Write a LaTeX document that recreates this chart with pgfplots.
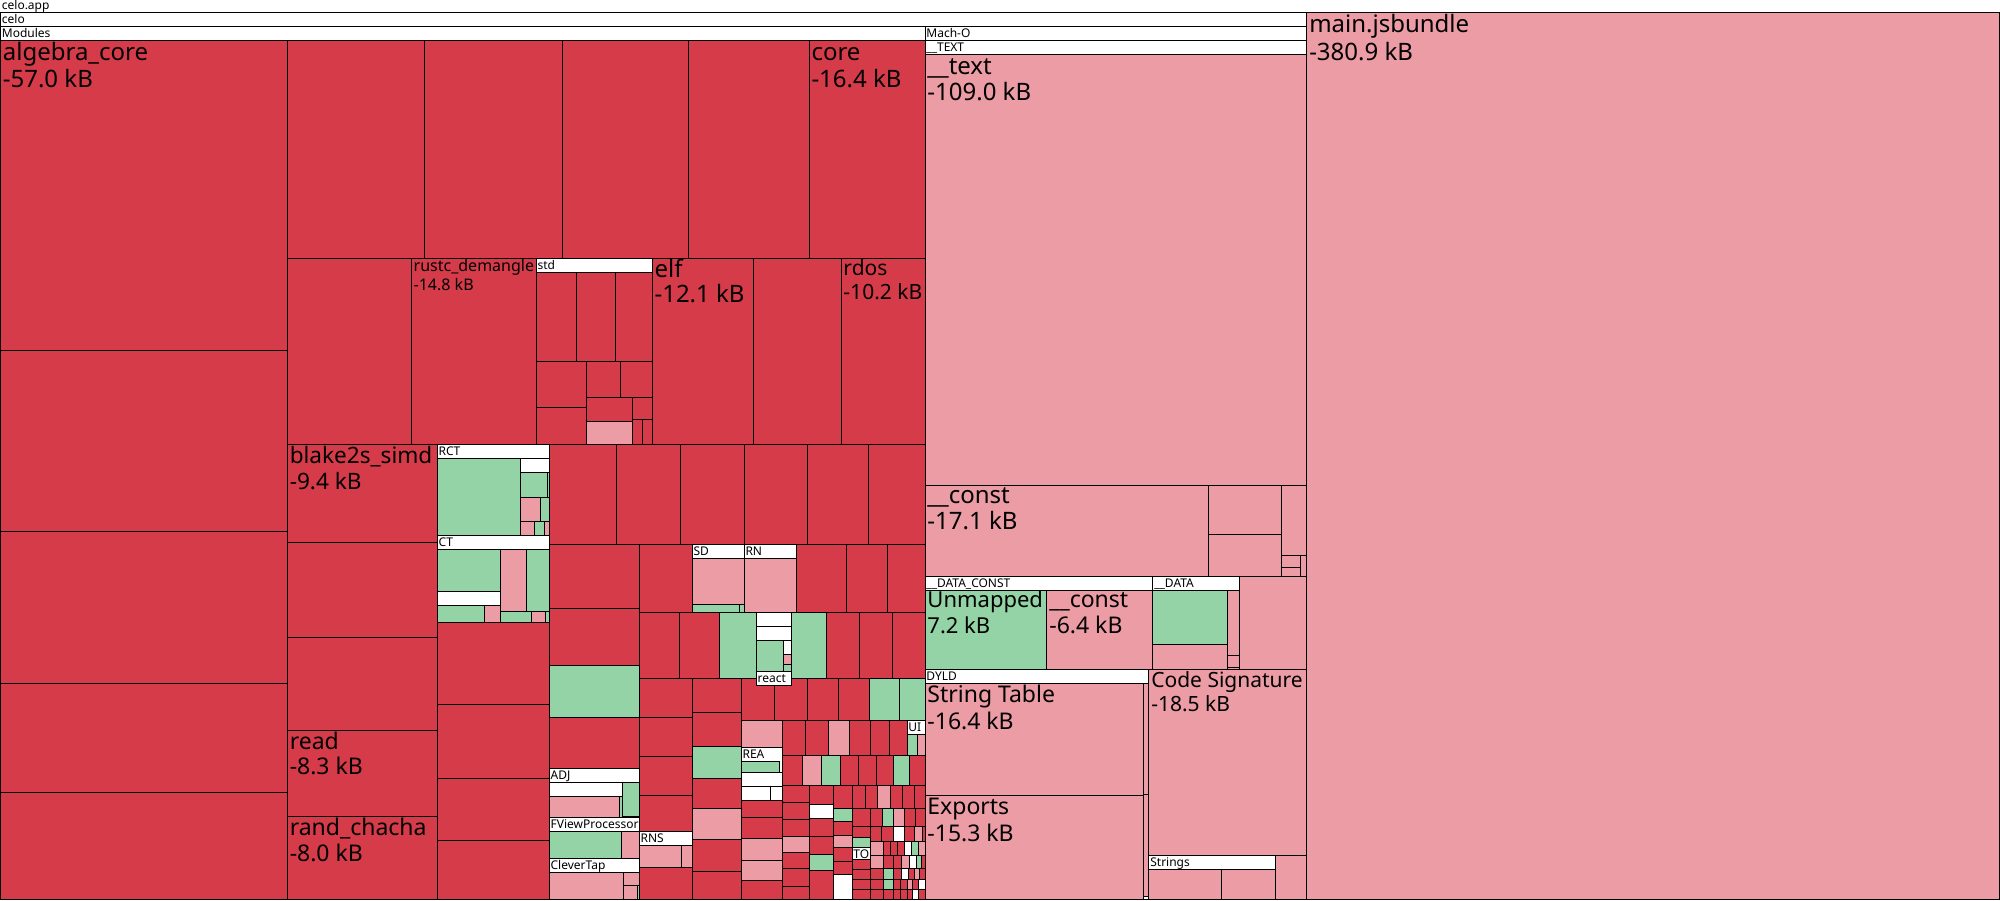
\documentclass[border=0pt]{standalone}
\usepackage{pgfplots}
\pgfplotsset{compat=1.18}
\usepackage{fontspec}
\setmainfont{Noto Sans}
\definecolor{tr}{RGB}{214,59,74}
\definecolor{tp}{RGB}{235,156,165}
\definecolor{tg}{RGB}{148,211,165}
\tikzset{tm/.style={draw=black,line width=0.5pt,mark=none},
  lab/.style={anchor=base west,inner sep=0pt,text=black}}
\newcommand{\Rc}[5]{\addplot[tm,fill=#5] coordinates {(#1,#2) (#3,#2) (#3,#4) (#1,#4)} --cycle;}
\newcommand{\Lb}[6]{\node[lab,font=\fontsize{#4}{#4}\selectfont] at (axis cs:#1,#2) {#5};
  \node[lab,font=\fontsize{#4}{#4}\selectfont] at (axis cs:#1,#3) {#6};}
\newcommand{\Hd}[3]{\node[lab,font=\fontsize{6}{7}\selectfont] at (axis cs:#1,#2) {#3};}
\begin{document}
\begin{tikzpicture}
\begin{axis}[width=1000pt,height=450pt,scale only axis,xmin=0,xmax=2000,ymin=0,ymax=900,
  y dir=reverse,hide axis,clip=false]
\addplot[fill=white,draw=none] coordinates {(0,0) (2000,0) (2000,900) (0,900)} --cycle;
% top level
\Rc{0}{13}{1307}{900}{white}
\Rc{1307}{13}{2000}{900}{tp}
\Rc{0}{27}{925}{900}{white}
\Rc{925}{27}{1307}{900}{white}
% Mach-O
\Rc{925}{41}{1307}{577}{white}
\Rc{925}{55}{1307}{486}{tp}
\Rc{925}{486}{1209}{577}{tp}
\Rc{1209}{486}{1282}{535}{tp}
\Rc{1209}{535}{1282}{577}{tp}
\Rc{1282}{486}{1307}{556}{tp}
\Rc{1282}{556}{1301}{568}{tp}
\Rc{1282}{568}{1301}{577}{tp}
\Rc{1301}{556}{1307}{577}{tp}
\Rc{925}{577}{1153}{670}{white}
\Rc{925}{591}{1047}{670}{tg}
\Rc{1047}{591}{1153}{670}{tp}
\Rc{1153}{577}{1240}{670}{white}
\Rc{1153}{591}{1228}{645}{tg}
\Rc{1153}{645}{1228}{670}{tp}
\Rc{1228}{591}{1240}{656}{tp}
\Rc{1228}{656}{1240}{668}{tp}
\Rc{1228}{668}{1240}{670}{tp}
\Rc{1240}{577}{1307}{670}{tp}
\Rc{925}{670}{1149}{900}{white}
\Rc{925}{684}{1144}{796}{tp}
\Rc{925}{796}{1144}{900}{tp}
\Rc{1144}{684}{1149}{795}{tp}
\Rc{1144}{795}{1149}{897}{tp}
\Rc{1149}{670}{1307}{856}{tp}
\Rc{1149}{856}{1276}{900}{white}
\Rc{1149}{870}{1222}{900}{tp}
\Rc{1222}{870}{1276}{900}{tp}
\Rc{1276}{856}{1307}{900}{tp}
% Modules: left column
\Rc{0}{41}{287}{351}{tr}
\Rc{0}{351}{287}{532}{tr}
\Rc{0}{532}{287}{684}{tr}
\Rc{0}{684}{287}{793}{tr}
\Rc{0}{793}{287}{900}{tr}
% top row
\Rc{287}{41}{424}{259}{tr}
\Rc{424}{41}{562}{259}{tr}
\Rc{562}{41}{688}{259}{tr}
\Rc{688}{41}{809}{259}{tr}
\Rc{809}{41}{925}{259}{tr}
% second row
\Rc{287}{259}{411}{445}{tr}
\Rc{411}{259}{536}{445}{tr}
\Rc{536}{259}{652}{445}{white}
\Rc{536}{273}{576}{362}{tr}
\Rc{576}{273}{615}{362}{tr}
\Rc{615}{273}{652}{362}{tr}
\Rc{536}{362}{586}{408}{tr}
\Rc{536}{408}{586}{445}{tr}
\Rc{586}{362}{620}{398}{tr}
\Rc{620}{362}{652}{398}{tr}
\Rc{586}{398}{632}{422}{tr}
\Rc{586}{422}{632}{445}{tp}
\Rc{632}{398}{652}{420}{tr}
\Rc{632}{420}{642}{445}{tr}
\Rc{642}{420}{652}{445}{tr}
\Rc{652}{259}{753}{445}{tr}
\Rc{753}{259}{841}{445}{tr}
\Rc{841}{259}{925}{445}{tr}
% third block
\Rc{287}{445}{437}{543}{tr}
\Rc{287}{543}{437}{638}{tr}
\Rc{287}{638}{437}{731}{tr}
\Rc{287}{731}{437}{817}{tr}
\Rc{287}{817}{437}{900}{tr}
% RCT
\Rc{437}{445}{549}{536}{white}
\Rc{437}{459}{520}{536}{tg}
\Rc{520}{459}{549}{473}{white}
\Rc{520}{473}{547}{498}{tg}
\Rc{547}{473}{549}{498}{tg}
\Rc{520}{498}{540}{522}{tp}
\Rc{540}{498}{549}{522}{tg}
\Rc{520}{522}{534}{536}{tp}
\Rc{534}{522}{544}{536}{tg}
\Rc{544}{522}{549}{536}{tp}
% CT
\Rc{437}{536}{549}{623}{white}
\Rc{437}{550}{500}{592}{tg}
\Rc{437}{592}{500}{606}{white}
\Rc{437}{606}{484}{623}{tg}
\Rc{484}{606}{500}{623}{tp}
\Rc{500}{550}{526}{612}{tp}
\Rc{526}{550}{549}{612}{tg}
\Rc{500}{612}{531}{623}{tg}
\Rc{531}{612}{545}{623}{tp}
\Rc{545}{612}{549}{623}{tg}
\Rc{437}{623}{549}{705}{tr}
\Rc{437}{705}{549}{779}{tr}
\Rc{437}{779}{549}{841}{tr}
\Rc{437}{841}{549}{900}{tr}
% row 445-545
\Rc{549}{445}{616}{545}{tr}
\Rc{616}{445}{680}{545}{tr}
\Rc{680}{445}{744}{545}{tr}
\Rc{744}{445}{807}{545}{tr}
\Rc{807}{445}{868}{545}{tr}
\Rc{868}{445}{925}{545}{tr}
% column 549-639
\Rc{549}{545}{639}{609}{tr}
\Rc{549}{609}{639}{666}{tr}
\Rc{549}{666}{639}{718}{tg}
\Rc{549}{718}{639}{769}{tr}
\Rc{549}{769}{639}{818}{white}
\Rc{549}{783}{622}{797}{white}
\Rc{622}{783}{639}{817}{tg}
\Rc{549}{797}{619}{818}{tp}
\Rc{619}{797}{622}{818}{tg}
\Rc{549}{818}{639}{859}{white}
\Rc{549}{832}{621}{859}{tg}
\Rc{621}{832}{639}{859}{tp}
\Rc{549}{859}{639}{900}{white}
\Rc{549}{873}{623}{900}{tp}
\Rc{623}{873}{639}{886}{tp}
\Rc{623}{886}{637}{900}{tp}
\Rc{637}{886}{639}{900}{tg}
% row 545-613
\Rc{639}{545}{692}{613}{tr}
\Rc{692}{545}{744}{613}{white}
\Rc{692}{559}{744}{605}{tp}
\Rc{692}{605}{739}{613}{tg}
\Rc{739}{605}{744}{613}{tg}
\Rc{744}{545}{796}{613}{white}
\Rc{744}{559}{796}{613}{tp}
\Rc{796}{545}{846}{613}{tr}
\Rc{846}{545}{887}{613}{tr}
\Rc{887}{545}{925}{613}{tr}
% row 613-679
\Rc{639}{613}{679}{679}{tr}
\Rc{679}{613}{719}{679}{tr}
\Rc{719}{613}{756}{679}{tg}
\Rc{756}{613}{791}{627}{white}
\Rc{756}{627}{791}{641}{white}
\Rc{756}{641}{783}{679}{tg}
\Rc{783}{641}{791}{655}{white}
\Rc{783}{655}{791}{665}{tp}
\Rc{783}{665}{791}{679}{tg}
\Rc{791}{613}{826}{679}{tg}
\Rc{826}{613}{859}{679}{tr}
\Rc{859}{613}{892}{679}{tr}
\Rc{892}{613}{925}{679}{tr}
% column 639-692
\Rc{639}{679}{692}{718}{tr}
\Rc{639}{718}{692}{757}{tr}
\Rc{639}{757}{692}{796}{tr}
\Rc{639}{796}{692}{832}{tr}
\Rc{639}{832}{692}{900}{white}
\Rc{639}{846}{681}{868}{tp}
\Rc{681}{846}{692}{868}{tp}
\Rc{639}{868}{692}{900}{tr}
% column 692-741
\Rc{692}{679}{741}{713}{tr}
\Rc{692}{713}{741}{747}{tr}
\Rc{692}{747}{741}{779}{tg}
\Rc{692}{779}{741}{809}{tr}
\Rc{692}{809}{741}{840}{tp}
\Rc{692}{840}{741}{872}{tr}
\Rc{692}{872}{741}{900}{tr}
% row 679-721
\Rc{741}{679}{774}{721}{tr}
\Rc{774}{679}{807}{721}{tr}
\Rc{807}{679}{838}{721}{tr}
\Rc{838}{679}{869}{721}{tr}
\Rc{869}{679}{899}{721}{tg}
\Rc{899}{679}{925}{721}{tg}
% column 741-782
\Rc{741}{721}{782}{748}{tp}
\Rc{741}{748}{782}{801}{white}
\Rc{741}{762}{779}{773}{tg}
\Rc{741}{773}{782}{787}{white}
\Rc{741}{787}{770}{801}{white}
\Rc{770}{787}{782}{801}{white}
\Rc{741}{801}{782}{818}{tr}
\Rc{741}{818}{782}{839}{tr}
\Rc{741}{839}{782}{861}{tp}
\Rc{741}{861}{782}{881}{tp}
\Rc{741}{881}{782}{900}{tr}
% row 721-756
\Rc{782}{721}{805}{756}{tr}
\Rc{805}{721}{828}{756}{tr}
\Rc{828}{721}{849}{756}{tp}
\Rc{849}{721}{870}{756}{tr}
\Rc{870}{721}{889}{756}{tr}
\Rc{889}{721}{907}{756}{tr}
\Rc{907}{721}{925}{756}{white}
\Rc{907}{735}{917}{756}{tg}
\Rc{917}{735}{925}{756}{tp}
% row 756-786
\Rc{782}{756}{802}{786}{tr}
\Rc{802}{756}{821}{786}{tp}
\Rc{821}{756}{840}{786}{tg}
\Rc{840}{756}{858}{786}{tr}
\Rc{858}{756}{876}{786}{tr}
\Rc{876}{756}{893}{786}{tr}
\Rc{893}{756}{909}{786}{tg}
\Rc{909}{756}{925}{786}{tr}
% column 782-809
\Rc{782}{786}{809}{803}{tr}
\Rc{782}{803}{809}{820}{tr}
\Rc{782}{820}{809}{837}{tr}
\Rc{782}{837}{809}{853}{tp}
\Rc{782}{853}{809}{869}{tr}
\Rc{782}{869}{809}{887}{tr}
\Rc{782}{887}{809}{900}{tr}
% column 809-833
\Rc{809}{786}{833}{805}{tr}
\Rc{809}{805}{833}{819}{white}
\Rc{809}{819}{833}{837}{tr}
\Rc{809}{837}{833}{855}{tr}
\Rc{809}{855}{833}{871}{tg}
\Rc{809}{871}{833}{900}{tr}
% column 833-852
\Rc{833}{786}{852}{809}{tr}
\Rc{833}{809}{852}{822}{tg}
\Rc{833}{822}{852}{836}{tr}
\Rc{833}{836}{852}{848}{tp}
\Rc{833}{848}{852}{862}{tr}
\Rc{833}{862}{852}{875}{tr}
\Rc{833}{875}{852}{900}{white}
% grid 852-925
\Rc{852}{786}{865}{809}{tr}
\Rc{865}{786}{877}{809}{tr}
\Rc{877}{786}{890}{809}{tp}
\Rc{890}{786}{902}{809}{tr}
\Rc{902}{786}{914}{809}{tr}
\Rc{914}{786}{925}{809}{tr}
\Rc{852}{809}{870}{827}{tr}
\Rc{870}{809}{882}{827}{tr}
\Rc{882}{809}{893}{827}{tg}
\Rc{893}{809}{904}{827}{tp}
\Rc{904}{809}{915}{827}{tr}
\Rc{915}{809}{925}{827}{tr}
\Rc{852}{827}{870}{838}{tr}
\Rc{852}{838}{870}{848}{tg}
\Rc{852}{848}{870}{900}{white}
\Rc{852}{860}{870}{870}{tr}
\Rc{852}{870}{870}{880}{tr}
\Rc{852}{880}{870}{890}{tr}
\Rc{852}{890}{870}{900}{tr}
\Rc{870}{827}{881}{842}{tr}
\Rc{881}{827}{893}{842}{tr}
\Rc{893}{827}{904}{842}{white}
\Rc{904}{827}{914}{842}{tr}
\Rc{914}{827}{922}{842}{tp}
\Rc{922}{827}{925}{842}{tr}
\Rc{870}{842}{883}{856}{tp}
\Rc{883}{842}{890}{856}{tr}
\Rc{890}{842}{897}{856}{tr}
\Rc{897}{842}{904}{856}{tr}
\Rc{904}{842}{911}{856}{white}
\Rc{911}{842}{918}{856}{tg}
\Rc{918}{842}{925}{856}{tp}
\Rc{870}{856}{883}{869}{tp}
\Rc{883}{856}{893}{869}{tr}
\Rc{893}{856}{901}{869}{tr}
\Rc{901}{856}{909}{869}{tp}
\Rc{909}{856}{916}{869}{white}
\Rc{916}{856}{921}{869}{tg}
\Rc{921}{856}{925}{869}{tr}
\Rc{870}{869}{883}{880}{tr}
\Rc{883}{869}{893}{880}{tg}
\Rc{893}{869}{901}{880}{tr}
\Rc{901}{869}{908}{880}{white}
\Rc{908}{869}{914}{880}{tr}
\Rc{914}{869}{919}{880}{tp}
\Rc{919}{869}{925}{880}{tr}
\Rc{870}{880}{883}{890}{tr}
\Rc{883}{880}{893}{890}{tg}
\Rc{893}{880}{900}{890}{tr}
\Rc{900}{880}{907}{890}{tr}
\Rc{907}{880}{912}{890}{tp}
\Rc{912}{880}{918}{890}{tr}
\Rc{918}{880}{925}{890}{white}
\Rc{870}{890}{883}{900}{tr}
\Rc{883}{890}{893}{900}{tr}
\Rc{893}{890}{900}{900}{tr}
\Rc{900}{890}{907}{900}{tr}
\Rc{907}{890}{912}{900}{tr}
\Rc{912}{890}{918}{900}{white}
\Rc{918}{890}{925}{900}{tr}
% react label box
\Rc{756}{672}{791}{686}{white}
% big labels
\Lb{2}{61}{88}{12}{algebra\_core}{-57.0 kB}
\Lb{811}{61}{88}{12}{core}{-16.4 kB}
\Lb{413}{272}{291}{8}{rustc\_demangle}{-14.8 kB}
\Lb{654}{278}{303}{12}{elf}{-12.1 kB}
\Lb{843}{276}{300}{10.5}{rdos}{-10.2 kB}
\Lb{289}{464}{490}{11.3}{blake2s\_simd}{-9.4 kB}
\Lb{289}{750}{775}{11.5}{read}{-8.3 kB}
\Lb{289}{836}{862}{11.5}{rand\_chacha}{-8.0 kB}
\Lb{927}{75}{101}{12}{\_\_text}{-109.0 kB}
\Lb{927}{504}{530}{12}{\_\_const}{-17.1 kB}
\Lb{927}{608}{634}{11}{Unmapped}{7.2 kB}
\Lb{1049}{608}{634}{11.5}{\_\_const}{-6.4 kB}
\Lb{927}{703}{730}{11.5}{String Table}{-16.4 kB}
\Lb{927}{815}{842}{11.5}{Exports}{-15.3 kB}
\Lb{1151}{688}{712}{10.5}{Code Signature}{-18.5 kB}
\Lb{1309}{33}{61}{12}{main.jsbundle}{-380.9 kB}
% header labels
\Hd{1}{9.5}{celo.app}
\Hd{1}{23.5}{celo}
\Hd{1}{37.5}{Modules}
\Hd{926}{37.5}{Mach-O}
\Hd{926}{51.5}{\_\_TEXT}
\Hd{537}{269.5}{std}
\Hd{438}{455.5}{RCT}
\Hd{438}{546.5}{CT}
\Hd{693}{555.5}{SD}
\Hd{745}{555.5}{RN}
\Hd{757}{682.5}{react}
\Hd{550}{779.5}{ADJ}
\Hd{550}{828.5}{FViewProcessor}
\Hd{550}{869.5}{CleverTap}
\Hd{640}{842.5}{RNS}
\Hd{742}{758.5}{REA}
\Hd{908}{731.5}{UI}
\Hd{853}{858.5}{TO}
\Hd{926}{587.5}{\_\_DATA\_CONST}
\Hd{1154}{587.5}{\_\_DATA}
\Hd{926}{680.5}{DYLD}
\Hd{1150}{866.5}{Strings}
\end{axis}
\end{tikzpicture}
\end{document}
